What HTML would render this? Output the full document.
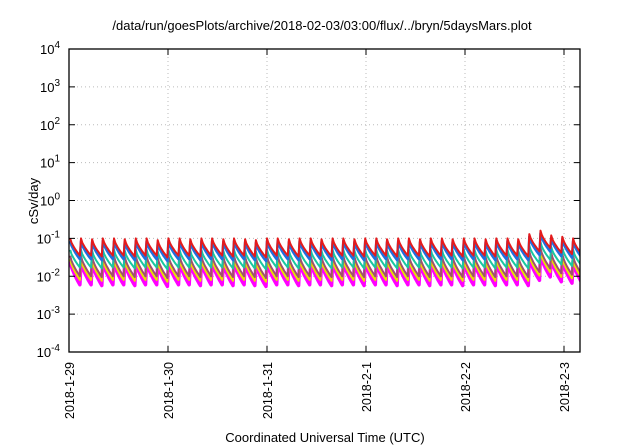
<!DOCTYPE html>
<html><head><meta charset="utf-8"><style>
body{margin:0;background:#fff;}
svg{display:block;font-family:"Liberation Sans",sans-serif;}
</style></head><body>
<svg id="chart" width="640" height="448">
<text x="322" y="30" font-size="13" text-anchor="middle">/data/run/goesPlots/archive/2018-02-03/03:00/flux/../bryn/5daysMars.plot</text>
<text transform="translate(38,201) rotate(-90)" font-size="13" text-anchor="middle">cSv/day</text>
<text x="325" y="442" font-size="13" text-anchor="middle">Coordinated Universal Time (UTC)</text>
<g id="grid"></g><g id="series"></g><g id="axes"></g>
</svg>
<script>
const yExps=[4,3,2,1,0,-1,-2,-3,-4];
const xTickLabels=["2018-1-29","2018-1-30","2018-1-31","2018-2-1","2018-2-2","2018-2-3"];
const xTickHours=[0,24,48,72,96,120];
// tooth peak times (hours) and top-series peak values
const toothHours=[0.3,2.9,5.6,8.2,10.9,13.5,16.2,18.8,21.5,24.1,26.8,29.4,32.1,34.7,37.4,40,42.7,45.3,48,50.6,53.3,55.9,58.6,61.2,63.9,66.5,69.2,71.8,74.5,77.1,79.8,82.4,85.1,87.7,90.4,93,95.7,98.3,101,103.6,106.3,108.9,111.6,114.3,116.9,119.6,122.2];
const toothPeaks=[0.1,0.1,0.095,0.1,0.1,0.095,0.1,0.1,0.09,0.1,0.1,0.095,0.1,0.1,0.095,0.1,0.095,0.09,0.1,0.1,0.095,0.1,0.1,0.095,0.1,0.1,0.095,0.1,0.1,0.095,0.1,0.1,0.095,0.1,0.1,0.095,0.1,0.1,0.095,0.1,0.1,0.095,0.13,0.16,0.12,0.11,0.1];
const seriesNames=["red","blue","teal","brown","yellow","magenta"];
const seriesColors=["#e41a1c","#1f6fe0","#19c8a0","#a0506e","#e8e000","#ff00ff"];
const peakRatio=[1.0,0.85,0.5,0.35,0.28,0.25];
const troughRatio=[0.35,0.28,0.17,0.1,0.08,0.06];
const widths=[2,2.5,2,2,2,3.5];

const X0=69,X1=580,Y0=49,Y1=352,PXD=99;
const xs=h=>X0+h*PXD/24;
const ys=v=>Y0+(4-Math.log10(v))*(Y1-Y0)/8;
const NS="http://www.w3.org/2000/svg";
function mk(tag,attrs,parent){const e=document.createElementNS(NS,tag);for(const k in attrs)e.setAttribute(k,attrs[k]);parent.appendChild(e);return e;}
const grid=document.getElementById('grid'),axes=document.getElementById('axes'),ser=document.getElementById('series');
yExps.forEach(p=>{
  const y=ys(Math.pow(10,p));
  if(p<4&&p>-4){const g=mk('line',{x1:X0,x2:X1,y1:y,y2:y,stroke:'#bbb','stroke-dasharray':'1,3'},grid);
  
  }
  mk('line',{x1:X0,x2:X0+6,y1:y,y2:y,stroke:'#000'},axes);
  mk('line',{x1:X1,x2:X1-6,y1:y,y2:y,stroke:'#000'},axes);
  const t=mk('text',{x:60,y:y+5,'font-size':13,'text-anchor':'end'},axes);
  
  
  t.textContent='10';
  const s=mk('tspan',{dy:-6,'font-size':10},t);s.textContent=String(p);
});
xTickHours.forEach((h,i)=>{
  const x=xs(h);
  if(i>0){const g=mk('line',{x1:x,x2:x,y1:Y0,y2:Y1,stroke:'#bbb','stroke-dasharray':'1,3'},grid);
  
  }
  mk('line',{x1:x,x2:x,y1:Y1,y2:Y1-6,stroke:'#000'},axes);
  mk('line',{x1:x,x2:x,y1:Y0,y2:Y0+6,stroke:'#000'},axes);
  const t=mk('text',{transform:`translate(${x+5},362) rotate(-90)`,'font-size':12.5,'text-anchor':'end'},axes);
  
  
  t.textContent=xTickLabels[i];
});
const fr=mk('rect',{x:X0,y:Y0,width:X1-X0,height:Y1-Y0,fill:'none',stroke:'#000','stroke-width':1.3},axes);


const clip=mk('clipPath',{id:'pc'},document.getElementById('chart'));
mk('rect',{x:X0,y:Y0,width:X1-X0,height:Y1-Y0},clip);
ser.setAttribute('clip-path','url(#pc)');
for(let s=seriesNames.length-1;s>=0;s--){
  let d='';
  for(let i=0;i<toothHours.length;i++){
    const h0=toothHours[i],h1=i+1<toothHours.length?toothHours[i+1]:h0+2.65;
    const pk=toothPeaks[i]*peakRatio[s],tr=toothPeaks[i]*troughRatio[s];
    const steps=8;
    for(let k=0;k<=steps;k++){
      const f=k/steps,h=h0+(h1-h0-0.25)*f;
      const v=pk*Math.pow(tr/pk,Math.pow(f,0.7));
      d+=(d?'L':'M')+xs(h).toFixed(1)+','+ys(v).toFixed(1);
    }
  }
  const p=mk('path',{d:d,fill:'none',stroke:seriesColors[s],'stroke-width':widths[s],'stroke-linejoin':'round'},ser);
  
  
}
</script>
</body></html>
